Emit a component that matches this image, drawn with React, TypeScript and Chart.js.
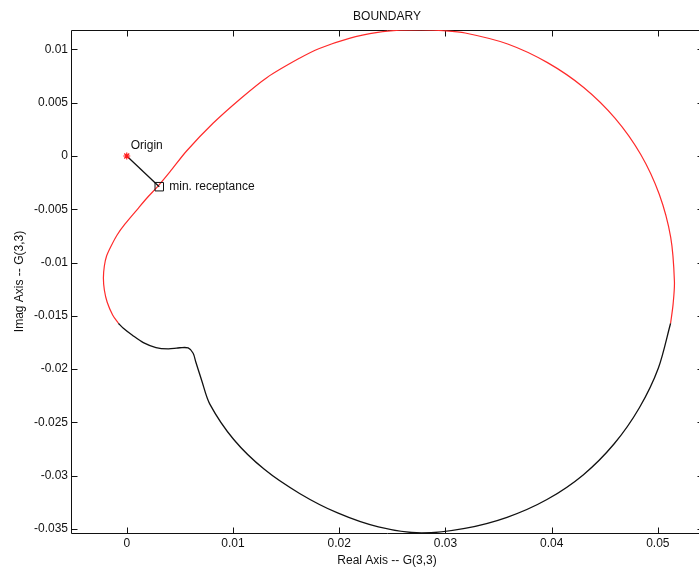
import { useEffect, useRef } from "react";
import { Chart, registerables } from "chart.js";

Chart.register(...registerables);

// Nyquist boundary of G(3,3): red branch
const redRe = [
  -0.00079, -0.00133, -0.00185, -0.00211, -0.0022, -0.00211, -0.0019, -0.00147, -0.00091,
  -0.00016, 0.00094, 0.0019, 0.0029, 0.00406, 0.00563, 0.00812, 0.01065, 0.01318, 0.01626,
  0.01813, 0.02095, 0.02363, 0.02568, 0.02775, 0.02981, 0.03186, 0.03586, 0.03961, 0.04302,
  0.04598, 0.04839, 0.05014, 0.05121, 0.05156, 0.05144, 0.0512,
];
const redIm = [
  -0.01569, -0.01492, -0.0137, -0.01257, -0.01145, -0.01032, -0.00938, -0.00844, -0.00741,
  -0.00638, -0.00507, -0.00394, -0.00288, -0.0015, 0.00047, 0.00307, 0.00533, 0.00735, 0.00917,
  0.01009, 0.01104, 0.0116, 0.0118, 0.01182, 0.01175, 0.01154, 0.01051, 0.00876, 0.00643,
  0.00353, 0.00014, -0.00362, -0.00764, -0.01177, -0.01385, -0.01569,
];

// Nyquist boundary of G(3,3): black branch
const blackRe = [
  0.0512, 0.05005, 0.04826, 0.04589, 0.04297, 0.03956, 0.0358, 0.03183, 0.02775, 0.02369,
  0.01985, 0.01627, 0.01295, 0.01007, 0.00782, 0.00704, 0.0065, 0.00625, 0.00578, 0.005,
  0.00469, 0.0039, 0.00275, 0.00156, 0.0005, -0.00032, -0.00079,
];
const blackIm = [
  -0.01569, -0.01989, -0.02362, -0.027, -0.02992, -0.03223, -0.0339, -0.03494, -0.03537,
  -0.0348, -0.03349, -0.03166, -0.0294, -0.0266, -0.02328, -0.02101, -0.01933, -0.01851,
  -0.01801, -0.01799, -0.01803, -0.0181, -0.01797, -0.01751, -0.01679, -0.01616, -0.01569,
];

const origin = { x: 0, y: 0 };
const minReceptance = { x: 0.00306, y: -0.00288 };

const xTicks = [0, 0.01, 0.02, 0.03, 0.04, 0.05];
const yTicks = [0.01, 0.005, 0, -0.005, -0.01, -0.015, -0.02, -0.025, -0.03, -0.035];
const xLimits = [-0.00525, 0.05425];
const yLimits = [-0.03537, 0.01182];

const FONT = '"Liberation Sans", Arial, Helvetica, sans-serif';
const INK = "#111";

const toPoints = (xs: number[], ys: number[]) => xs.map((x, i) => ({ x, y: ys[i] }));

// Box with inward tick marks, drawn under the curves
const framePlugin = {
  id: "frame",
  beforeDatasetsDraw(chart: any) {
    const { ctx, chartArea: a, scales } = chart;
    const L = Math.round(a.left) + 0.5;
    const R = Math.round(a.right) + 0.5;
    const T = Math.round(a.top) + 0.5;
    const B = Math.round(a.bottom) + 0.5;
    const len = 6;
    ctx.save();
    ctx.strokeStyle = INK;
    ctx.lineWidth = 1;
    ctx.beginPath();
    ctx.rect(L, T, R - L, B - T);
    for (const v of xTicks) {
      const px = Math.round(scales.x.getPixelForValue(v)) + 0.5;
      ctx.moveTo(px, B);
      ctx.lineTo(px, B - len);
      ctx.moveTo(px, T);
      ctx.lineTo(px, T + len);
    }
    for (const v of yTicks) {
      const py = Math.round(scales.y.getPixelForValue(v)) + 0.5;
      ctx.moveTo(L, py);
      ctx.lineTo(L + len, py);
      ctx.moveTo(R, py);
      ctx.lineTo(R - len, py);
    }
    ctx.stroke();
    ctx.restore();
  },
  afterDraw(chart: any) {
    const { ctx, scales } = chart;
    const ox = scales.x.getPixelForValue(origin.x);
    const oy = scales.y.getPixelForValue(origin.y);
    const mx = scales.x.getPixelForValue(minReceptance.x);
    const my = scales.y.getPixelForValue(minReceptance.y);
    ctx.save();
    ctx.font = `12px ${FONT}`;
    ctx.fillStyle = INK;
    ctx.textAlign = "left";
    ctx.textBaseline = "middle";
    ctx.fillText("Origin", ox + 4, oy - 10);
    ctx.fillText("min. receptance", mx + 10, my);
    ctx.restore();
  },
};

export default function App() {
  const ref = useRef<HTMLCanvasElement | null>(null);

  useEffect(() => {
    if (!ref.current) return;
    Chart.defaults.font.family = FONT;
    Chart.defaults.font.size = 12;
    Chart.defaults.color = INK;

    const chart = new Chart(ref.current, {
      type: "scatter",
      data: {
        datasets: [
          {
            data: [origin],
            pointStyle: "star",
            pointRadius: 3.5,
            borderColor: "#ff1a1a",
            borderWidth: 1.2,
            showLine: false,
            order: 0,
          },
          {
            data: [minReceptance],
            pointStyle: "rect",
            pointRadius: 6,
            borderColor: INK,
            backgroundColor: "rgba(0,0,0,0)",
            borderWidth: 1,
            showLine: false,
            order: 1,
          },
          {
            data: [origin, minReceptance],
            showLine: true,
            borderColor: INK,
            borderWidth: 1.3,
            pointRadius: 0,
            order: 2,
          },
          {
            data: toPoints(redRe, redIm),
            showLine: true,
            borderColor: "#ff2a2a",
            borderWidth: 1.2,
            pointRadius: 0,
            tension: 0.3,
            order: 3,
          },
          {
            data: toPoints(blackRe, blackIm),
            showLine: true,
            borderColor: "#111",
            borderWidth: 1.3,
            pointRadius: 0,
            tension: 0.3,
            order: 4,
          },
        ],
      },
      options: {
        animation: false,
        responsive: false,
        events: [],
        layout: { padding: { left: 0, right: 5, top: 0, bottom: 0 } },
        plugins: {
          legend: { display: false },
          tooltip: { enabled: false },
          title: {
            display: true,
            text: "BOUNDARY",
            fullSize: false,
            color: INK,
            font: { size: 12, weight: "normal" },
            padding: { top: 9, bottom: 6.6 },
          },
        },
        scales: {
          x: {
            type: "linear",
            min: xLimits[0],
            max: xLimits[1],
            afterBuildTicks: (s: any) => {
              s.ticks = xTicks.map((value) => ({ value }));
            },
            afterFit: (s: any) => {
              s.height = 35;
            },
            grid: { display: false, drawTicks: false },
            border: { display: false },
            ticks: {
              autoSkip: false,
              maxRotation: 0,
              padding: 3,
              color: INK,
              callback: (v: any) => String(v),
            },
            title: {
              display: true,
              text: "Real Axis -- G(3,3)",
              color: INK,
              font: { size: 12 },
              padding: { top: 3, bottom: 0 },
            },
          },
          y: {
            type: "linear",
            min: yLimits[0],
            max: yLimits[1],
            afterBuildTicks: (s: any) => {
              s.ticks = yTicks.map((value) => ({ value }));
            },
            afterFit: (s: any) => {
              s.width = 71;
            },
            grid: { display: false, drawTicks: false },
            border: { display: false },
            ticks: {
              autoSkip: false,
              padding: 3,
              color: INK,
              callback: (v: any) => String(v),
            },
            title: {
              display: true,
              text: "Imag Axis -- G(3,3)",
              color: INK,
              font: { size: 12 },
              padding: { top: 12, bottom: 0 },
            },
          },
        },
      },
      plugins: [framePlugin],
    });

    return () => chart.destroy();
  }, []);

  return (
    <div
      style={{
        position: "absolute",
        left: 0,
        top: 0,
        width: 699,
        height: 568,
        overflow: "hidden",
        background: "#fff",
      }}
    >
      <canvas ref={ref} width={710} height={568} style={{ display: "block" }} />
    </div>
  );
}
